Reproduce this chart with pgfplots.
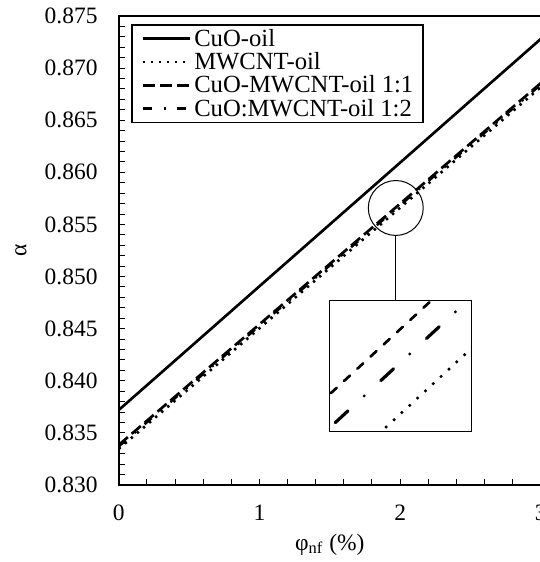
\documentclass[border=0pt]{standalone}
\usepackage{fontspec}
\setmainfont{Liberation Serif}
\usepackage{graphicx}
\usepackage{pgfplots}
\usepackage{pgfplotstable}
\pgfplotsset{compat=1.18}

\pgfplotstableread{
x y
0   0.83720
0.5 0.84313
1   0.84907
1.5 0.85500
2   0.86093
2.5 0.86687
3   0.87280
}\cuo
\pgfplotstableread{
x y
0   0.83347
0.5 0.83926
1   0.84504
1.5 0.85083
2   0.85661
2.5 0.86240
3   0.86818
}\mwcnt
\pgfplotstableread{
x y
0   0.83385
0.5 0.83964
1   0.84542
1.5 0.85121
2   0.85699
2.5 0.86278
3   0.86856
}\hybA
\pgfplotstableread{
x y
0   0.83370
0.5 0.83949
1   0.84527
1.5 0.85106
2   0.85684
2.5 0.86263
3   0.86841
}\hybB

\newcommand{\tktxt}[1]{\scalebox{1.76}{#1}}
\newcommand{\lgtxt}[1]{\scalebox{1.85}{#1}}

\begin{document}
\begin{tikzpicture}
\clip (-89.1pt,-57.75pt) rectangle (315.9pt,363.75pt);
\begin{axis}[
  at={(0pt,0pt)}, anchor=south west,
  scale only axis, width=316.5pt, height=351.75pt,
  xmin=0, xmax=3, ymin=0.830, ymax=0.875,
  xtick={0,1,2,3},
  ytick={0.830,0.835,0.840,0.845,0.850,0.855,0.860,0.865,0.870,0.875},
  minor x tick num=4, minor y tick num=4,
  tick align=inside, xtick pos=lower, ytick pos=left,
  major tick length=4.5pt, minor tick length=4.5pt,
  every tick/.style={black, line width=0.75pt},
  axis line style={line width=1.2pt},
  scaled y ticks=false,
  /pgf/number format/assume math mode=true,
  yticklabel={\tktxt{\pgfmathprintnumber[fixed,fixed zerofill,precision=3]{\tick}}},
  xticklabel={\tktxt{\pgfmathprintnumber{\tick}}},
  y tick label style={inner sep=0pt, anchor=east, xshift=-15.75pt},
  x tick label style={inner sep=0pt, anchor=north, yshift=-15pt},
  xlabel={\tktxt{φ\textsubscript{nf} (\%)}},
  xlabel style={at={(axis description cs:0.5,0)}, anchor=base, inner sep=0pt, yshift=-48.75pt},
  ylabel={\tktxt{α}},
  ylabel style={at={(axis description cs:-0.232,0.5)}, anchor=center, inner sep=0pt},
  legend style={at={(axis description cs:0.030,0.983)}, anchor=north west,
    draw=black, line width=1.2pt, inner xsep=0pt, inner ysep=1.65pt,
    row sep=0pt, column sep=0pt,
    nodes={inner xsep=0pt, inner ysep=0pt, text height=14.5pt, text depth=3pt}},
  legend cell align=left,
  legend image code/.code={\path (0pt,0pt) (44.5pt,0pt); \draw[#1] (7pt,0pt) -- (42.25pt,0pt);},
]
\addplot[black, line width=2pt] table[x=x,y=y] {\cuo};
\addlegendentry{\lgtxt{CuO-oil}}
\addplot[black, line width=2pt, dash pattern=on 1.8pt off 4.2pt] table[x=x,y=y] {\mwcnt};
\addlegendentry{\lgtxt{MWCNT-oil}}
\addplot[black, line width=2pt, dash pattern=on 9pt off 3.75pt] table[x=x,y=y] {\hybA};
\addlegendentry{\lgtxt{CuO-MWCNT-oil 1:1}\hspace*{7.5pt}}
\addplot[black, line width=1.8pt, dash pattern=on 7pt off 8.5pt on 1.5pt off 8.5pt] table[x=x,y=y] {\hybB};
\addlegendentry{\lgtxt{CuO:MWCNT-oil 1:2}\hspace*{7.5pt}}
\draw[line width=0.75pt] (axis cs:1.969,0.85658) circle[radius=20.6pt];
\draw[line width=0.75pt] ([yshift=-20.6pt]axis cs:1.969,0.85658) -- (axis cs:1.969,0.84768);
\end{axis}
\begin{axis}[
  at={(158.25pt,40pt)}, anchor=south west,
  scale only axis, width=106.5pt, height=98.2pt,
  xmin=1.95, xmax=2.0007, ymin=0.856244, ymax=0.85683,
  ticks=none,
  axis line style={line width=0.75pt},
  axis background/.style={fill=white},
]
\addplot[black, line width=2pt, line cap=round, dash pattern=on 6pt off 7.5pt] table[x=x,y=y] {\hybA};
\addplot[black, line width=2.4pt, line cap=round, dash pattern=on 13pt off 16.5pt on 0pt off 17pt] table[x=x,y=y] {\hybB};
\addplot[black, line width=2.6pt, line cap=round, dash pattern=on 0pt off 8pt] table[x=x,y=y] {\mwcnt};
\end{axis}
\end{tikzpicture}
\end{document}
